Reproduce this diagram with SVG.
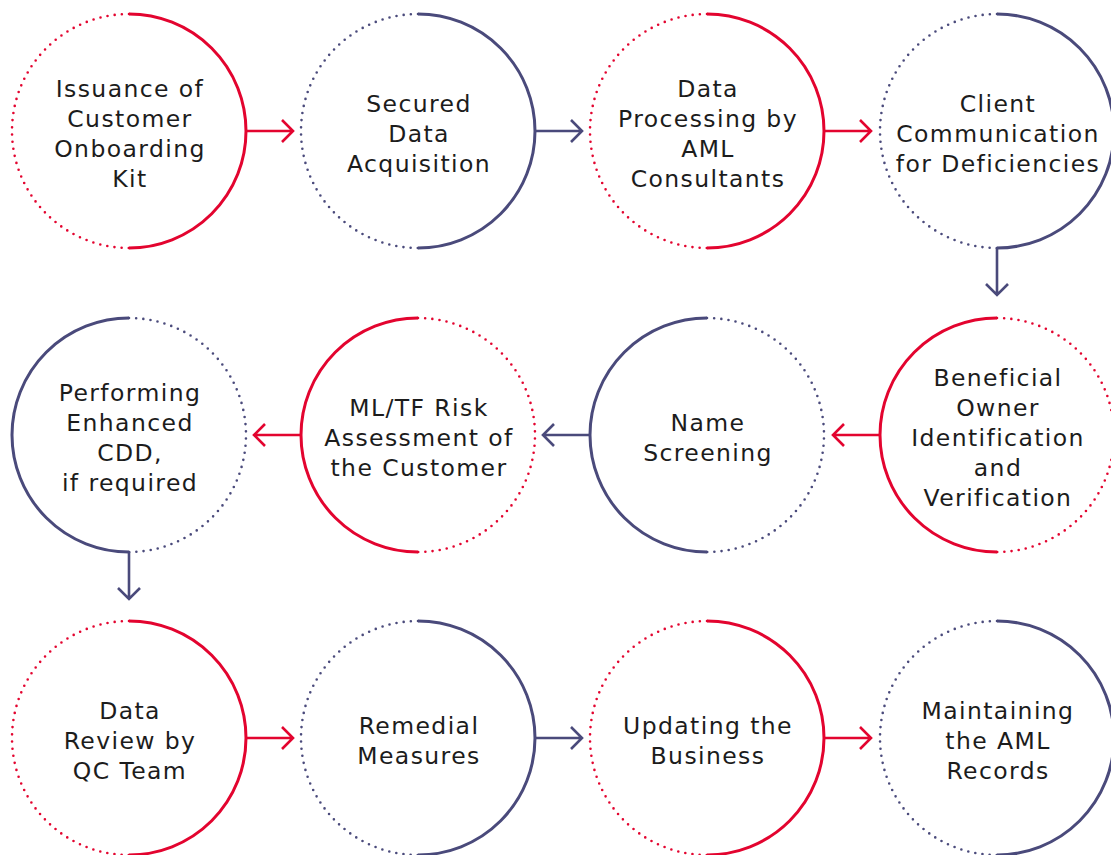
<svg xmlns="http://www.w3.org/2000/svg" width="1111" height="855" viewBox="0 0 1111 855">
<style>
.sr{fill:none;stroke:#E3042F;stroke-width:3}
.sn{fill:none;stroke:#4A4A7B;stroke-width:3}
.dr{fill:none;stroke:#E3042F;stroke-width:2.6;stroke-linecap:round;stroke-dasharray:0 7.2}
.dn{fill:none;stroke:#4A4A7B;stroke-width:2.6;stroke-linecap:round;stroke-dasharray:0 7.2}
.ar{fill:none;stroke:#E3042F;stroke-width:2.6}
.an{fill:none;stroke:#4A4A7B;stroke-width:2.6}
text{font-family:"DejaVu Sans",Verdana,sans-serif;font-size:23.5px;letter-spacing:1.4px;fill:#1c1c1c;text-anchor:middle}
</style>
<rect width="1111" height="855" fill="#fff"/>
<g id="n1">
<path class="sr" d="M129,14 A117,117 0 0 1 129,248"/><path class="dr" d="M129,14 A117,117 0 0 0 129,248"/>
<text x="130" y="97">Issuance of</text><text x="130" y="127">Customer</text><text x="130" y="157">Onboarding</text><text x="130" y="187">Kit</text>
</g>
<g id="n2">
<path class="sn" d="M418,14 A117,117 0 0 1 418,248"/><path class="dn" d="M418,14 A117,117 0 0 0 418,248"/>
<text x="419" y="112">Secured</text><text x="419" y="142">Data</text><text x="419" y="172">Acquisition</text>
</g>
<g id="n3">
<path class="sr" d="M707,14 A117,117 0 0 1 707,248"/><path class="dr" d="M707,14 A117,117 0 0 0 707,248"/>
<text x="708" y="97">Data</text><text x="708" y="127">Processing by</text><text x="708" y="157">AML</text><text x="708" y="187">Consultants</text>
</g>
<g id="n4">
<path class="sn" d="M997,14 A117,117 0 0 1 997,248"/><path class="dn" d="M997,14 A117,117 0 0 0 997,248"/>
<text x="998" y="112">Client</text><text x="998" y="142">Communication</text><text x="998" y="172">for Deficiencies</text>
</g>
<g id="n5">
<path class="sr" d="M997,318 A117,117 0 0 0 997,552"/><path class="dr" d="M997,318 A117,117 0 0 1 997,552"/>
<text x="998" y="386">Beneficial</text><text x="998" y="416">Owner</text><text x="998" y="446">Identification</text><text x="998" y="476">and</text><text x="998" y="506">Verification</text>
</g>
<g id="n6">
<path class="sn" d="M707,318 A117,117 0 0 0 707,552"/><path class="dn" d="M707,318 A117,117 0 0 1 707,552"/>
<text x="708" y="431">Name</text><text x="708" y="461">Screening</text>
</g>
<g id="n7">
<path class="sr" d="M418,318 A117,117 0 0 0 418,552"/><path class="dr" d="M418,318 A117,117 0 0 1 418,552"/>
<text x="419" y="416">ML/TF Risk</text><text x="419" y="446">Assessment of</text><text x="419" y="476">the Customer</text>
</g>
<g id="n8">
<path class="sn" d="M129,318 A117,117 0 0 0 129,552"/><path class="dn" d="M129,318 A117,117 0 0 1 129,552"/>
<text x="130" y="401">Performing</text><text x="130" y="431">Enhanced</text><text x="130" y="461">CDD,</text><text x="130" y="491">if required</text>
</g>
<g id="n9">
<path class="sr" d="M129,621 A117,117 0 0 1 129,855"/><path class="dr" d="M129,621 A117,117 0 0 0 129,855"/>
<text x="130" y="719">Data</text><text x="130" y="749">Review by</text><text x="130" y="779">QC Team</text>
</g>
<g id="n10">
<path class="sn" d="M418,621 A117,117 0 0 1 418,855"/><path class="dn" d="M418,621 A117,117 0 0 0 418,855"/>
<text x="419" y="734">Remedial</text><text x="419" y="764">Measures</text>
</g>
<g id="n11">
<path class="sr" d="M707,621 A117,117 0 0 1 707,855"/><path class="dr" d="M707,621 A117,117 0 0 0 707,855"/>
<text x="708" y="734">Updating the</text><text x="708" y="764">Business</text>
</g>
<g id="n12">
<path class="sn" d="M997,621 A117,117 0 0 1 997,855"/><path class="dn" d="M997,621 A117,117 0 0 0 997,855"/>
<text x="998" y="719">Maintaining</text><text x="998" y="749">the AML</text><text x="998" y="779">Records</text>
</g>
<g id="connectors">
<path class="ar" d="M246,131 H293 M282,120 L293,131 L282,142"/>
<path class="an" d="M535,131 H582 M571,120 L582,131 L571,142"/>
<path class="ar" d="M824,131 H871 M860,120 L871,131 L860,142"/>
<path class="an" d="M997,248 V295 M986,284 L997,295 L1008,284"/>
<path class="ar" d="M880,435 H833 M844,424 L833,435 L844,446"/>
<path class="an" d="M590,435 H543 M554,424 L543,435 L554,446"/>
<path class="ar" d="M301,435 H254 M265,424 L254,435 L265,446"/>
<path class="an" d="M129,552 V599 M118,588 L129,599 L140,588"/>
<path class="ar" d="M246,738 H293 M282,727 L293,738 L282,749"/>
<path class="an" d="M535,738 H582 M571,727 L582,738 L571,749"/>
<path class="ar" d="M824,738 H871 M860,727 L871,738 L860,749"/>
</g>
</svg>
